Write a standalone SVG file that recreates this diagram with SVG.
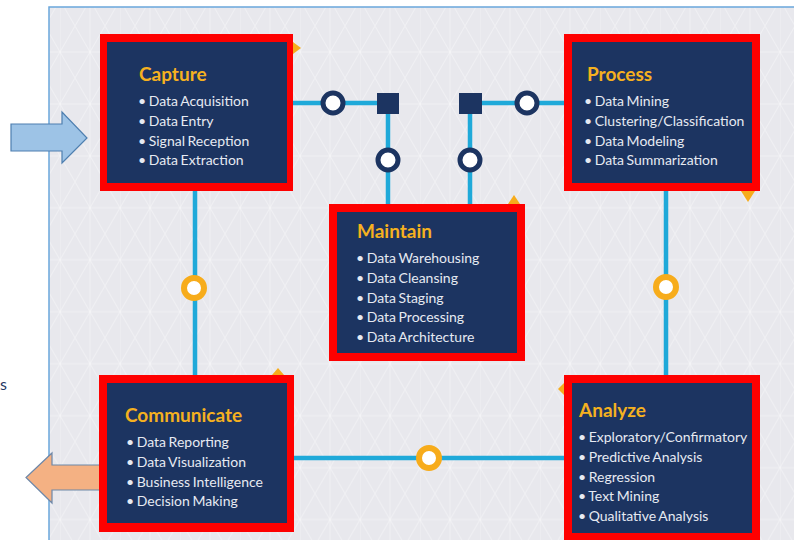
<svg xmlns="http://www.w3.org/2000/svg" width="794" height="540" viewBox="0 0 794 540">
  <defs>
    <style>
      .frame { fill: none; stroke: #6aa6db; stroke-width: 1.5; }
      .wire { fill: none; stroke: #1fa9d9; stroke-width: 4.5; }
      .red { fill: #fe0000; }
      .panel { fill: #1c3461; }
      .title { font-family: "Lato", "Liberation Sans", sans-serif; font-weight: bold; font-size: 19px; fill: #f5b11f; }
      .item { font-family: "Lato", "Liberation Sans", sans-serif; font-size: 14px; fill: #e6eaf2; word-spacing: -1px; }
      .ringN { fill: #ffffff; stroke: #1c3461; stroke-width: 5; }
      .ringY { fill: #ffffff; stroke: #f7ac1b; stroke-width: 6; }
      .sq { fill: #1c3461; }
      .tri { fill: #f7ac1b; }
    </style>
    <pattern id="mesh" width="60" height="103.92" patternUnits="userSpaceOnUse">
      <g stroke="#ffffff" stroke-opacity="0.35" stroke-width="1" fill="none">
        <path d="M0 0H60M0 51.96H60M0 103.92H60"/>
        <path d="M0 0L60 103.92M60 0L0 103.92M30 0L0 51.96L30 103.92M30 0L60 51.96L30 103.92"/>
        <path d="M30 0V103.92M0 0V103.92"/>
      </g>
    </pattern>
  </defs>

  <!-- page background and frame -->
  <rect x="0" y="0" width="794" height="540" fill="#ffffff"/>
  <rect x="49" y="7" width="745" height="533" fill="#e8e8ed"/>
  <rect x="49" y="7" width="745" height="533" fill="url(#mesh)"/>
  <path class="frame" d="M49 540V7H794"/>

  <text x="0" y="390" font-family="Lato, 'Liberation Sans', sans-serif" font-size="16" fill="#1f3864">s</text>

  <!-- connectors -->
  <g id="connectors">
    <path class="wire" d="M293 103H388V204"/>
    <path class="wire" d="M564 103H470V204"/>
    <path class="wire" d="M195 191V375"/>
    <path class="wire" d="M666 191V375"/>
    <path class="wire" d="M294 458H564"/>
  </g>

  <!-- small corner accents -->
  <g id="accents">
    <path class="tri" d="M293 42L301 48L293 54Z"/>
    <path class="tri" d="M508 204L514 195L520 204Z"/>
    <path class="tri" d="M741 191L755 191L748 202Z"/>
    <path class="tri" d="M272 375L278 368L284 375Z"/>
    <path class="tri" d="M564 383L558 389L564 395Z"/>
  </g>

  <!-- input / output arrows -->
  <path id="arrow-in" d="M11 124H62V112L87 138L62 163V151H11Z" fill="#9dc3e6" stroke="#4e7fb0" stroke-width="1.2"/>
  <path id="arrow-out" d="M110 465H52V453L26 477.5L52 503V490H110Z" fill="#f4b183" stroke="#6d87a8" stroke-width="1.2"/>

  <g id="capture">
    <rect class="red" x="100" y="34" width="193" height="157"/>
    <rect class="panel" x="107" y="42" width="180" height="141"/>
    <text class="title" x="139" y="81">Capture</text>
    <text class="item" x="138" y="106">• Data Acquisition</text>
    <text class="item" x="138" y="126">• Data Entry</text>
    <text class="item" x="138" y="146">• Signal Reception</text>
    <text class="item" x="138" y="165">• Data Extraction</text>
  </g>

  <g id="process">
    <rect class="red" x="564" y="34" width="196" height="157"/>
    <rect class="panel" x="572" y="42" width="180" height="141"/>
    <text class="title" x="587" y="81">Process</text>
    <text class="item" x="584" y="106">• Data Mining</text>
    <text class="item" x="584" y="126">• Clustering/Classification</text>
    <text class="item" x="584" y="146">• Data Modeling</text>
    <text class="item" x="584" y="165">• Data Summarization</text>
  </g>

  <g id="maintain">
    <rect class="red" x="329" y="204" width="196" height="157"/>
    <rect class="panel" x="337" y="212" width="180" height="141"/>
    <text class="title" x="357" y="238">Maintain</text>
    <text class="item" x="356" y="263">• Data Warehousing</text>
    <text class="item" x="356" y="283">• Data Cleansing</text>
    <text class="item" x="356" y="303">• Data Staging</text>
    <text class="item" x="356" y="322">• Data Processing</text>
    <text class="item" x="356" y="342">• Data Architecture</text>
  </g>

  <g id="communicate">
    <rect class="red" x="99" y="375" width="195" height="157"/>
    <rect class="panel" x="107" y="383" width="180" height="140"/>
    <text class="title" x="125" y="422">Communicate</text>
    <text class="item" x="126" y="447">• Data Reporting</text>
    <text class="item" x="126" y="467">• Data Visualization</text>
    <text class="item" x="126" y="487">• Business Intelligence</text>
    <text class="item" x="126" y="506">• Decision Making</text>
  </g>

  <g id="analyze">
    <rect class="red" x="564" y="375" width="196" height="170"/>
    <rect class="panel" x="572" y="383" width="180" height="150"/>
    <text class="title" x="579" y="417">Analyze</text>
    <text class="item" x="578" y="442">• Exploratory/Confirmatory</text>
    <text class="item" x="578" y="462">• Predictive Analysis</text>
    <text class="item" x="578" y="482">• Regression</text>
    <text class="item" x="578" y="501">• Text Mining</text>
    <text class="item" x="578" y="521">• Qualitative Analysis</text>
  </g>

  <!-- junction markers -->
  <g id="junctions">
    <circle class="ringN" cx="333" cy="103" r="10"/>
    <circle class="ringN" cx="527" cy="103" r="10"/>
    <circle class="ringN" cx="388" cy="160" r="10"/>
    <circle class="ringN" cx="470" cy="160" r="10"/>
    <rect class="sq" x="377" y="93" width="22" height="21"/>
    <rect class="sq" x="459" y="93" width="23" height="21"/>
    <circle class="ringY" cx="194" cy="288" r="10"/>
    <circle class="ringY" cx="666" cy="287" r="10"/>
    <circle class="ringY" cx="429" cy="458" r="10"/>
  </g>
</svg>
